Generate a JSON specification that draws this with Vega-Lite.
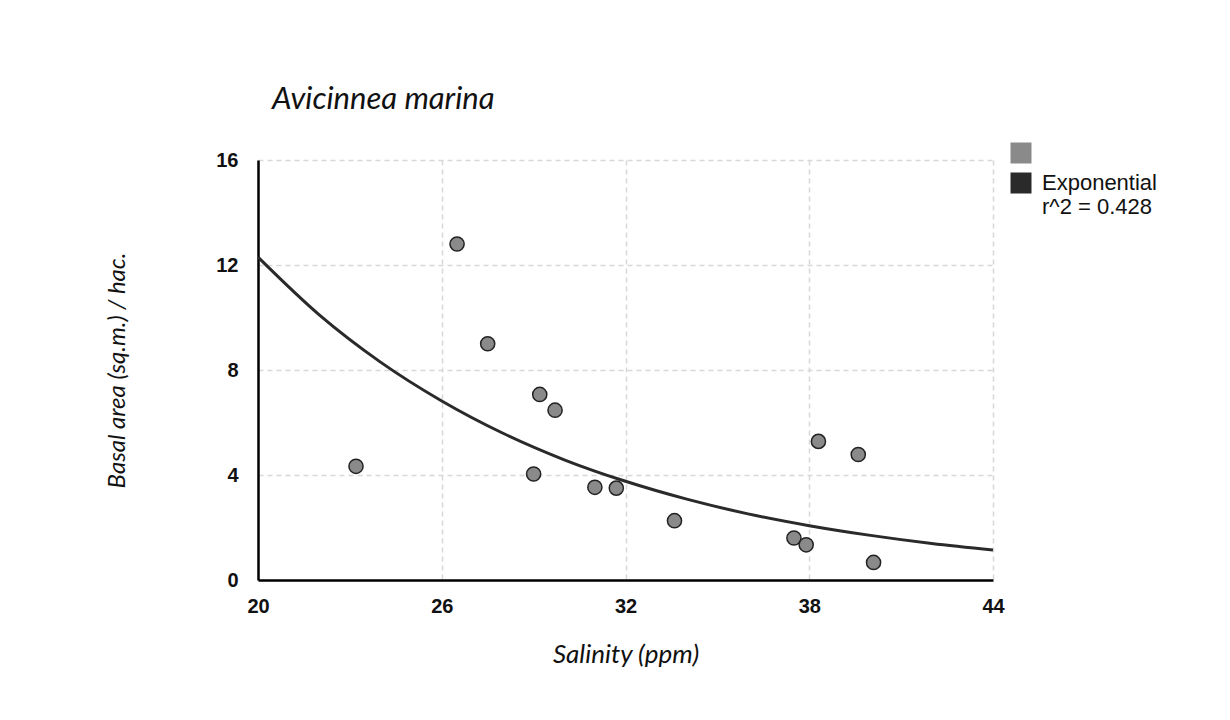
{
  "$schema": "https://vega.github.io/schema/vega-lite/v6.json",
  "width": 735,
  "height": 420,
  "padding": {"left": 258, "top": 160, "right": 237, "bottom": 140},
  "autosize": {"type": "none"},
  "background": "white",
  "title": {
    "text": "Avicinnea marina",
    "anchor": "start",
    "frame": "group",
    "dx": 14,
    "offset": 26,
    "font": "Lato",
    "fontStyle": "italic",
    "fontWeight": "normal",
    "fontSize": 31,
    "color": "#111"
  },
  "datasets": {
    "points": [
      {"salinity": 23.2, "basal": 4.33, "series": "pts"},
      {"salinity": 26.5, "basal": 12.8, "series": "pts"},
      {"salinity": 27.5, "basal": 9.0, "series": "pts"},
      {"salinity": 29.2, "basal": 7.07, "series": "pts"},
      {"salinity": 29.7, "basal": 6.47, "series": "pts"},
      {"salinity": 29.0, "basal": 4.04, "series": "pts"},
      {"salinity": 31.0, "basal": 3.53, "series": "pts"},
      {"salinity": 31.7, "basal": 3.5, "series": "pts"},
      {"salinity": 33.6, "basal": 2.26, "series": "pts"},
      {"salinity": 37.5, "basal": 1.6, "series": "pts"},
      {"salinity": 37.9, "basal": 1.34, "series": "pts"},
      {"salinity": 38.3, "basal": 5.28, "series": "pts"},
      {"salinity": 39.6, "basal": 4.78, "series": "pts"},
      {"salinity": 40.1, "basal": 0.67, "series": "pts"}
    ],
    "curve": [
      {"salinity": 20, "basal": 12.3, "series": "Exponential"},
      {"salinity": 22, "basal": 10.1, "series": "Exponential"},
      {"salinity": 24, "basal": 8.3, "series": "Exponential"},
      {"salinity": 26, "basal": 6.82, "series": "Exponential"},
      {"salinity": 28, "basal": 5.59, "series": "Exponential"},
      {"salinity": 30, "basal": 4.58, "series": "Exponential"},
      {"salinity": 32, "basal": 3.76, "series": "Exponential"},
      {"salinity": 34, "basal": 3.08, "series": "Exponential"},
      {"salinity": 36, "basal": 2.52, "series": "Exponential"},
      {"salinity": 38, "basal": 2.07, "series": "Exponential"},
      {"salinity": 40, "basal": 1.7, "series": "Exponential"},
      {"salinity": 42, "basal": 1.39, "series": "Exponential"},
      {"salinity": 44, "basal": 1.14, "series": "Exponential"}
    ]
  },
  "encoding": {
    "x": {
      "field": "salinity",
      "type": "quantitative",
      "scale": {"domain": [20, 44], "nice": false, "zero": false},
      "axis": {
        "values": [20, 26, 32, 38, 44],
        "title": "Salinity (ppm)",
        "titlePadding": 25,
        "titleFontSize": 26,
        "labelFlush": false,
        "labelPadding": 16
      }
    },
    "y": {
      "field": "basal",
      "type": "quantitative",
      "scale": {"domain": [0, 16], "nice": false},
      "axis": {
        "values": [0, 4, 8, 12, 16],
        "title": "Basal area (sq.m.) / hac.",
        "titlePadding": 86,
        "labelFlush": false,
        "labelPadding": 20
      }
    },
    "color": {
      "field": "series",
      "type": "nominal",
      "scale": {"domain": ["pts", "Exponential"], "range": ["#8a8a8a", "#2a2a2a"]},
      "legend": {
        "title": null,
        "orient": "none",
        "legendX": 752,
        "legendY": -18,
        "symbolType": "square",
        "symbolSize": 380,
        "labelExpr": "datum.label == 'Exponential' ? ['Exponential', 'r^2 = 0.428'] : ''",
        "labelFont": "Liberation Sans",
        "labelFontSize": 22,
        "labelColor": "#111",
        "rowPadding": 4,
        "labelBaseline": "middle",
        "labelOffset": 10,
        "encode": {
          "symbols": {"update": {"stroke": {"value": "#222"}, "strokeWidth": {"value": 1.5}}}
        }
      }
    }
  },
  "layer": [
    {
      "data": {"name": "curve"},
      "mark": {"type": "line", "strokeWidth": 3, "interpolate": "monotone", "clip": true}
    },
    {
      "data": {"name": "points"},
      "mark": {"type": "point", "filled": true, "size": 200, "opacity": 1, "stroke": "#222", "strokeWidth": 1.5}
    }
  ],
  "config": {
    "view": {"stroke": null},
    "axis": {
      "domainColor": "#000",
      "domainWidth": 2.5,
      "ticks": false,
      "labelFont": "Liberation Sans",
      "labelFontSize": 20,
      "labelFontWeight": "bold",
      "labelColor": "#111",
      "titleFont": "Lato",
      "titleFontStyle": "italic",
      "titleFontWeight": "normal",
      "titleFontSize": 24,
      "titleColor": "#111",
      "gridColor": "#d8d8d8",
      "gridDash": [5, 4],
      "gridWidth": 1.5
    }
  }
}
